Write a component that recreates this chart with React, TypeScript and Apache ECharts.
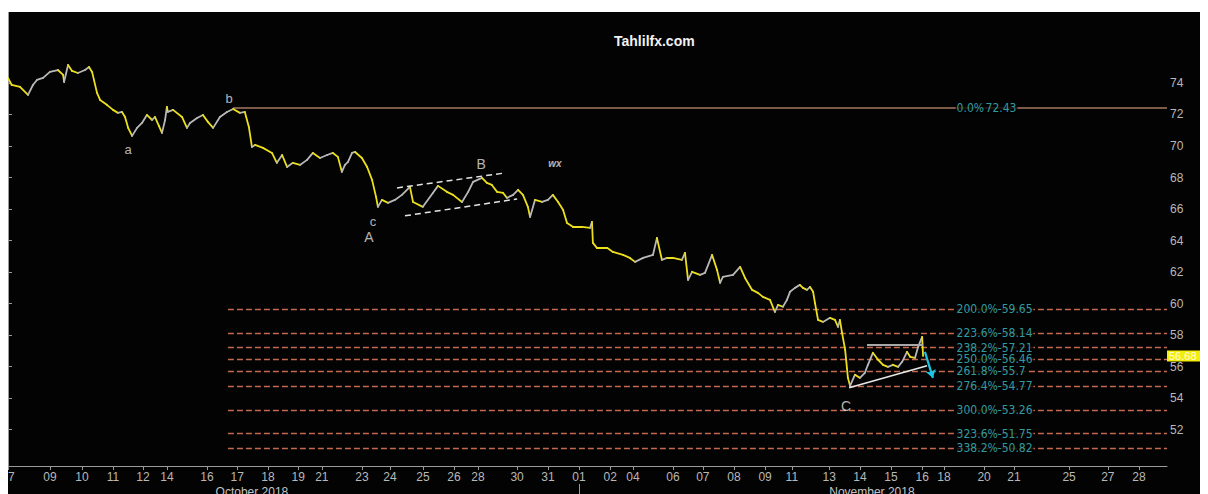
import React, { useEffect, useRef } from "react";
import * as echarts from "echarts";

// ---- axis labels (x in trading-session units) ----
const dayLabels = ["07","09","10","11","12","14","16","17","18","19","21","23","24","25","26","28","30","31","01","02","04","06","07","08","09","11","13","14","15","16","18","20","21","25","27","28"];
const dayPos = [0.0,1.36,2.40,3.41,4.38,5.16,6.46,7.44,8.44,9.42,10.19,11.49,12.40,13.47,14.48,15.26,16.53,17.53,18.54,19.55,20.29,21.59,22.56,23.57,24.58,25.45,26.66,27.66,28.67,29.68,30.39,31.69,32.66,34.45,35.71,36.72];
const monthLabels = ["October 2018", "November 2018"];
const monthPos = [7.92, 28.05];
const monthBreak = [18.54];
const yTicks = [52, 54, 56, 58, 60, 62, 64, 66, 68, 70, 72, 74];
const X_MAX = 37.63;

// ---- price path ----
const priceT = [0.00,0.12,0.39,0.65,0.81,0.94,1.14,1.36,1.62,1.79,1.82,1.95,2.08,2.27,2.50,2.63,2.73,2.89,2.99,3.21,3.41,3.57,3.70,3.80,3.90,4.03,4.19,4.35,4.51,4.68,4.77,4.90,5.00,5.10,5.16,5.19,5.36,5.65,5.81,5.91,6.14,6.33,6.49,6.66,6.88,7.11,7.31,7.53,7.69,7.82,7.92,8.02,8.28,8.57,8.73,8.90,9.06,9.25,9.48,9.71,9.90,10.13,10.36,10.55,10.71,10.84,10.94,11.04,11.17,11.27,11.49,11.66,11.82,11.95,12.01,12.14,12.34,12.56,12.79,13.05,13.15,13.47,13.80,13.96,14.25,14.45,14.74,14.94,15.10,15.39,15.55,15.71,15.88,16.07,16.20,16.40,16.56,16.72,16.88,16.95,17.11,17.34,17.53,17.69,17.86,18.02,18.15,18.34,18.64,18.90,18.96,18.99,19.12,19.45,19.64,19.97,20.19,20.36,20.62,20.94,21.07,21.23,21.40,21.59,21.88,21.98,22.08,22.21,22.47,22.63,22.86,23.02,23.12,23.21,23.54,23.77,23.93,24.16,24.35,24.51,24.74,24.90,25.00,25.16,25.29,25.39,25.55,25.71,25.81,25.94,26.04,26.14,26.20,26.30,26.46,26.69,26.85,26.95,27.01,27.08,27.18,27.27,27.34,27.50,27.66,27.82,27.92,28.08,28.25,28.41,28.57,28.73,28.90,29.03,29.19,29.29,29.45,29.55,29.68,29.71];
const priceV = [74.32,73.87,73.75,73.24,73.87,74.19,74.32,74.70,74.82,74.51,74.06,75.14,74.76,74.63,74.82,75.01,74.70,73.37,72.92,72.61,72.29,72.10,72.16,71.84,71.15,70.64,71.15,71.46,71.97,71.65,71.84,71.27,70.83,71.65,72.48,72.16,72.29,71.84,71.15,71.46,71.78,71.97,71.53,71.15,71.84,72.16,72.35,72.10,72.16,71.21,69.94,70.07,69.88,69.56,68.93,69.43,68.67,68.93,68.80,69.12,69.56,69.24,69.43,69.56,69.31,68.36,68.80,68.99,69.56,69.62,69.24,68.67,67.85,66.77,66.14,66.58,66.39,66.58,66.90,67.41,66.45,66.14,67.03,67.47,67.09,66.90,66.45,67.09,67.72,67.98,67.66,67.53,67.09,67.03,66.71,66.90,67.22,66.90,66.14,65.50,66.58,66.45,66.58,66.90,66.45,65.95,65.12,64.87,64.87,64.81,65.19,63.85,63.54,63.54,63.28,63.09,62.90,62.65,62.90,63.09,64.17,62.78,62.90,62.90,62.78,63.22,61.51,62.02,61.82,61.95,63.09,62.14,61.32,61.70,61.82,62.33,61.63,60.87,60.68,60.43,60.24,59.48,59.92,59.80,60.24,60.75,61.00,61.19,61.00,60.87,61.06,60.75,60.05,58.97,58.84,59.10,58.97,58.53,58.97,58.15,57.07,55.29,54.79,55.49,55.29,55.61,56.12,56.88,56.44,56.12,55.99,56.12,55.99,56.31,56.94,56.63,56.56,57.26,57.89,56.68];
const lastPrice = 56.68;

// ---- Fibonacci levels ----
const fibPct = ["0.0%","200.0%","223.6%","238.2%","250.0%","261.8%","276.4%","300.0%","323.6%","338.2%"];
const fibVal = [72.43,59.65,58.14,57.21,56.46,55.7,54.77,53.26,51.75,50.82];
const fibStartZero = 7.31;
const fibStart = 7.14;
const fibLabelLeft = 30.75;
const fibLabelRight = 32.79;

// ---- wave annotations ----
const waveNames = ["a","b","c","A","B","wx","C"];
const waveT = [3.90,7.18,11.85,11.72,15.36,17.76,27.21];
const waveV = [69.75,72.99,65.19,64.24,68.86,68.86,53.52];

// ---- drawn trendlines [t1, v1, t2, v2] ----
const channelUpper = [12.63,67.34,16.14,68.29];
const channelLower = [12.89,65.57,16.53,66.64];
const triangleTop = [27.89,57.39,29.71,57.39];
const triangleBottom = [27.31,54.66,29.84,56.06];
const arrowDown = [29.77,56.94,30.03,55.29];

const YELLOW = "#ecdf1c";
const GREY = "#b8b8b8";
const AXIS = "#9a9a9a";
const LABEL = "#b8b8b8";
const CYAN = "#3fc3c9";
const FONT = "'Liberation Sans', Arial, sans-serif";
const NARROW = "'Liberation Sans Narrow', 'Arial Narrow', 'DejaVu Sans Condensed', 'Liberation Sans', sans-serif";

function nearestLabel(val: number, pos: number[], labels: string[]) {
  let best = 0;
  for (let i = 1; i < pos.length; i++) {
    if (Math.abs(pos[i] - val) < Math.abs(pos[best] - val)) best = i;
  }
  return labels[best];
}

function seg(a: number[]) {
  return [[a[0], a[1]], [a[2], a[3]]];
}

export default function App() {
  const ref = useRef<HTMLDivElement>(null);

  useEffect(() => {
    document.documentElement.style.overflow = "hidden";
    document.body.style.overflow = "hidden";
    if (!ref.current) return;
    const chart = echarts.init(ref.current, undefined, { renderer: "svg" });

    const priceSegments: any[] = [];
    for (let i = 0; i < priceT.length - 1; i++) {
      const up = priceV[i + 1] > priceV[i];
      priceSegments.push({
        coords: [[priceT[i], priceV[i]], [priceT[i + 1], priceV[i + 1]]],
        lineStyle: { color: up ? GREY : YELLOW },
      });
    }

    const dashedFib = fibVal.slice(1).map((v) => ({ coords: [[fibStart, v], [X_MAX, v]] }));

    const fibLabelData: any[] = [];
    fibVal.forEach((v, i) => {
      if (i === 0) {
        fibLabelData.push({ value: [fibLabelLeft, v], label: { position: "right", formatter: fibPct[i] } });
        fibLabelData.push({ value: [fibLabelRight, v], label: { position: "left", formatter: fibVal[i].toString() } });
      } else {
        fibLabelData.push({ value: [fibLabelLeft, v], label: { position: "right", formatter: fibPct[i] + "-" + fibVal[i] } });
      }
    });

    const waveData = waveNames.map((n, i) => ({
      value: [waveT[i], waveV[i]],
      label: {
        formatter: n,
        fontSize: n === "wx" ? 10 : n === n.toUpperCase() ? 14 : 13,
        fontStyle: n === "wx" ? "italic" : "normal",
        fontWeight: n === "wx" ? "bold" : "normal",
      },
    }));

    chart.setOption({
      animation: false,
      backgroundColor: "#030303",
      title: {
        text: "Tahlilfx.com",
        left: 606,
        top: 22,
        padding: 0,
        textStyle: { color: "#f2f2f2", fontSize: 14, fontWeight: "bold", fontFamily: FONT },
      },
      grid: { left: 0, right: 41, top: 0, bottom: 28, containLabel: false, outerBoundsMode: "none" },
      xAxis: [
        {
          type: "value",
          min: 0,
          max: X_MAX,
          position: "bottom",
          axisLine: { show: true, lineStyle: { color: AXIS, width: 1 } },
          axisTick: { show: true, customValues: dayPos, length: 4, lineStyle: { color: AXIS } },
          axisLabel: {
            show: true,
            customValues: dayPos,
            formatter: (v: number) => nearestLabel(v, dayPos, dayLabels),
            color: LABEL,
            fontSize: 12,
            fontFamily: FONT,
            margin: 5,
          },
          splitLine: { show: false },
        },
        {
          type: "value",
          min: 0,
          max: X_MAX,
          position: "bottom",
          offset: 18,
          axisLine: { show: false },
          axisTick: { show: true, customValues: monthBreak, length: 10, lineStyle: { color: AXIS } },
          axisLabel: {
            show: true,
            customValues: monthPos,
            formatter: (v: number) => nearestLabel(v, monthPos, monthLabels),
            color: "#c4c4c4",
            fontSize: 12,
            fontFamily: FONT,
            margin: 2,
          },
          splitLine: { show: false },
        },
      ],
      yAxis: {
        type: "value",
        position: "right",
        min: 49.7,
        max: 78.5,
        axisLine: { show: true, lineStyle: { color: AXIS } },
        axisTick: { show: true, customValues: yTicks, length: 4, lineStyle: { color: AXIS } },
        axisLabel: { show: true, customValues: yTicks, color: LABEL, fontSize: 12, fontFamily: FONT, margin: 3 },
        splitLine: { show: false },
      },
      series: [
        {
          name: "fibZero",
          type: "lines",
          coordinateSystem: "cartesian2d",
          z: 2,
          lineStyle: { color: "#a87a62", width: 1.5, opacity: 1 },
          data: [{ coords: [[fibStartZero, fibVal[0]], [X_MAX, fibVal[0]]] }],
        },
        {
          name: "fibDash",
          type: "lines",
          coordinateSystem: "cartesian2d",
          z: 2,
          lineStyle: { color: "#c4684e", width: 1.3, type: [6, 3], opacity: 1 },
          data: dashedFib,
        },
        {
          name: "price",
          type: "lines",
          coordinateSystem: "cartesian2d",
          z: 3,
          lineStyle: { width: 1.8, opacity: 1, cap: "round", join: "round" },
          data: priceSegments,
        },
        {
          name: "channel",
          type: "lines",
          coordinateSystem: "cartesian2d",
          z: 4,
          lineStyle: { color: "#e4e4e4", width: 1.5, type: [6, 4], opacity: 1 },
          data: [{ coords: seg(channelUpper) }, { coords: seg(channelLower) }],
        },
        {
          name: "triangle",
          type: "lines",
          coordinateSystem: "cartesian2d",
          z: 4,
          lineStyle: { width: 1.6, opacity: 1 },
          data: [
            { coords: seg(triangleTop), lineStyle: { color: "#a8a8a8", width: 2 } },
            { coords: seg(triangleBottom), lineStyle: { color: "#e8e8e8", width: 1.6 } },
          ],
        },
        {
          name: "arrow",
          type: "lines",
          coordinateSystem: "cartesian2d",
          z: 4,
          symbol: ["none", "arrow"],
          symbolSize: 8,
          lineStyle: { color: "#1ec4e4", width: 2.2, opacity: 1 },
          data: [{ coords: seg(arrowDown) }],
        },
        {
          name: "fibLabels",
          type: "scatter",
          z: 6,
          symbolSize: 1,
          itemStyle: { color: "rgba(0,0,0,0)" },
          label: {
            show: true,
            distance: 0,
            color: CYAN,
            fontSize: 12,
            fontFamily: NARROW,
            backgroundColor: "#030303",
            padding: [0, 1],
          },
          data: fibLabelData,
          markLine: {
            silent: true,
            symbol: "none",
            lineStyle: { color: "rgba(0,0,0,0)", width: 0, opacity: 1 },
            label: {
              show: true,
              position: "end",
              distance: 0,
              formatter: lastPrice.toFixed(2),
              backgroundColor: "#f2ee0c",
              color: "#fffbe0",
              opacity: 1,
              fontSize: 11,
              lineHeight: 11,
              fontFamily: FONT,
              padding: [0, 4, 0, 2],
            },
            data: [{ yAxis: lastPrice }],
          },
        },
        {
          name: "waves",
          type: "scatter",
          z: 6,
          symbolSize: 1,
          itemStyle: { color: "rgba(0,0,0,0)" },
          label: { show: true, position: "inside", color: "#e2e2e2", fontFamily: FONT },
          data: waveData,
        },
      ],
    });

    return () => chart.dispose();
  }, []);

  return (
    <div
      ref={ref}
      style={{ width: 1200, height: 482, marginTop: 4 }}
    />
  );
}
